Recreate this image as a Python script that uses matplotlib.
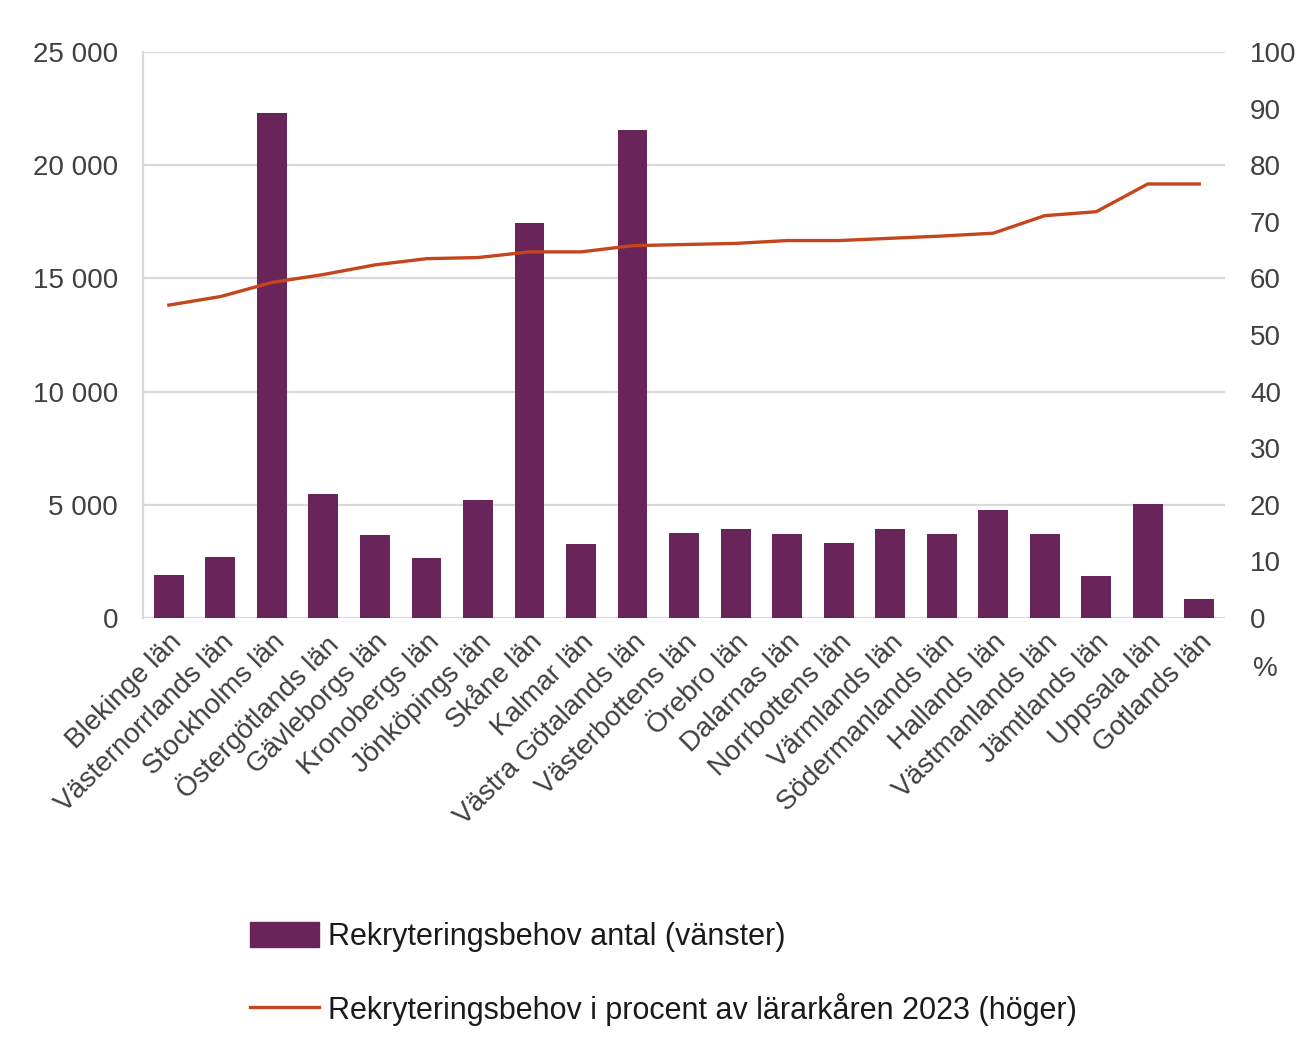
import matplotlib.pyplot as plt
from matplotlib.patches import Patch
from matplotlib.lines import Line2D

plt.rcParams['font.family'] = ['Liberation Sans', 'DejaVu Sans']

# =====================================================
# DATA
# =====================================================

lan = ["Blekinge län", "Västernorrlands län", "Stockholms län", "Östergötlands län",
       "Gävleborgs län", "Kronobergs län", "Jönköpings län", "Skåne län", "Kalmar län",
       "Västra Götalands län", "Västerbottens län", "Örebro län", "Dalarnas län",
       "Norrbottens län", "Värmlands län", "Södermanlands län", "Hallands län",
       "Västmanlands län", "Jämtlands län", "Uppsala län", "Gotlands län"]

antal = [1880, 2700, 22300, 5480, 3680, 2670, 5230, 17470, 3250, 21550, 3750,
         3950, 3720, 3320, 3930, 3720, 4750, 3730, 1870, 5020, 850]

procent = [55.3, 56.8, 59.3, 60.7, 62.4, 63.5, 63.7, 64.7, 64.7, 65.8, 66.0,
           66.2, 66.7, 66.7, 67.1, 67.5, 68.0, 71.1, 71.8, 76.7, 76.7]

left_ticks = [0, 5000, 10000, 15000, 20000, 25000]
left_labels = ["0", "5 000", "10 000", "15 000", "20 000", "25 000"]
right_ticks = [0, 10, 20, 30, 40, 50, 60, 70, 80, 90, 100]

bar_color = "#69255A"
line_color = "#C4461C"
text_color = "#404040"

# =====================================================
# PLOT
# =====================================================

fig = plt.figure(figsize=(13.01, 10.43), dpi=100)
ax = fig.add_axes([0.110, 0.4075, 0.8316, 0.5425])
ax2 = ax.twinx()

x = list(range(len(lan)))
ax.bar(x, antal, width=0.58, color=bar_color, zorder=3)
ax2.plot(x, procent, color=line_color, linewidth=2.4, zorder=4)

ax.set_xlim(-0.5, len(lan) - 0.5)
ax.set_ylim(0, 25000)
ax2.set_ylim(0, 100)

ax.set_yticks(left_ticks)
ax.set_yticklabels(left_labels)
ax2.set_yticks(right_ticks)

ax.yaxis.grid(True, color="#d9d9d9", linewidth=1.6, zorder=0)
ax.set_axisbelow(True)

for a in (ax, ax2):
    for s in ["top", "right", "bottom"]:
        a.spines[s].set_visible(False)
    a.tick_params(length=0, labelsize=20, colors=text_color)
ax2.spines["left"].set_visible(False)
ax.spines["left"].set_color("#d9d9d9")
ax.spines["left"].set_linewidth(1.6)
ax.tick_params(axis="y", pad=18)
ax2.tick_params(axis="y", pad=18)

ax.set_xticks(x)
ax.set_xticklabels(lan, rotation=45, ha="right", rotation_mode="anchor",
                   fontsize=20, color=text_color)
ax.tick_params(axis="x", pad=8)

ax.set_zorder(ax2.get_zorder() - 1)
ax.patch.set_visible(True)
ax2.patch.set_visible(False)

fig.text(0.9725, 0.359, "%", fontsize=20, color=text_color, ha="center", va="center")

handles = [
    Patch(facecolor=bar_color, edgecolor=bar_color),
    Line2D([0], [0], color=line_color, linewidth=2.4),
]
labels = ["Rekryteringsbehov antal (vänster)",
          "Rekryteringsbehov i procent av lärarkåren 2023 (höger)"]
fig.legend(handles, labels, loc="upper left", bbox_to_anchor=(0.192, 0.1158),
           frameon=False, fontsize=22, handlelength=2.25, handleheight=0.85,
           handletextpad=0.3, labelspacing=1.33, borderpad=0, borderaxespad=0,
           labelcolor="#1a1a1a")

plt.savefig("out.png", dpi=100)
plt.close()
